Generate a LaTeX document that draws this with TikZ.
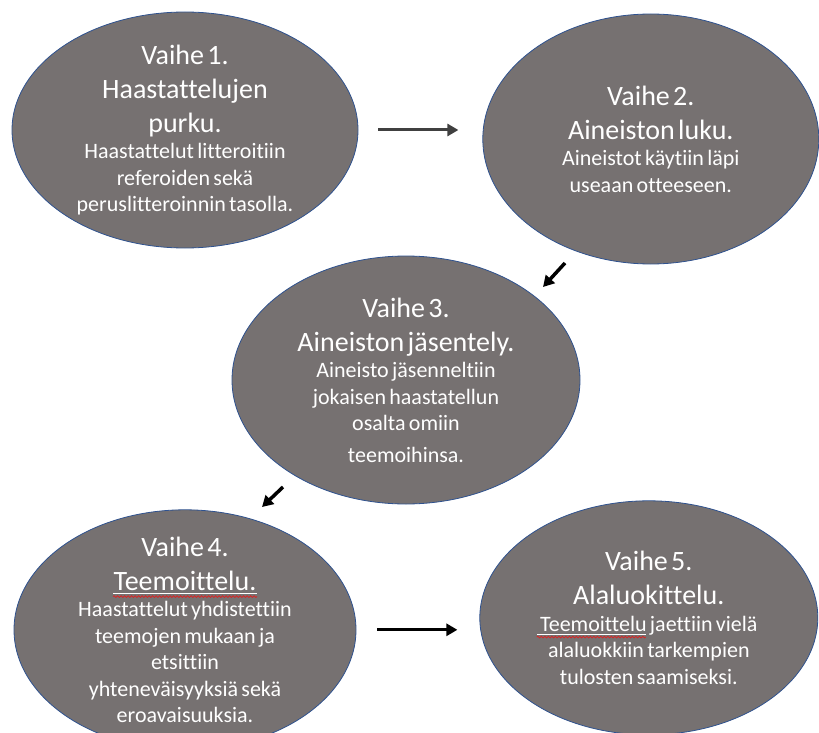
\documentclass[tikz,border=0pt]{standalone}
\usepackage{fontspec}
\setmainfont{Carlito}[Ligatures=CommonOff]
\usetikzlibrary{positioning}
\usetikzlibrary{shapes.geometric,arrows.meta,decorations.pathmorphing}

\definecolor{stagefill}{HTML}{767171}
\definecolor{stageline}{HTML}{2F528F}
\definecolor{arrowgray}{HTML}{404040}
\definecolor{spell}{HTML}{E02020}

\newcommand{\stagehead}{\fontsize{28}{34}\selectfont}
\newcommand{\stagebody}{\fontsize{22}{26.5}\selectfont}

\begin{document}
\begin{tikzpicture}[x=1pt, y=-1pt,
    stage/.style = {ellipse, draw=stageline, line width=0.8pt, fill=stagefill, inner sep=0pt},
    txt/.style = {text=white, align=center, text width=340pt, inner sep=0pt},
    flow/.style = {-{Triangle[length=11pt,width=12pt]}, line width=3pt},
    uline/.style = {draw=white, line width=1pt},
    wavy/.style = {draw=spell, line width=0.7pt, decorate, decoration={snake, amplitude=0.9pt, segment length=3.5pt}}]
            \useasboundingbox (0,0) rectangle (819,733);
            \node[stage, minimum width=346pt, minimum height=236pt](s1) at (185,130){};
            \node[stage, minimum width=336pt, minimum height=250pt](s2)[right=124pt of s1, yshift=-9pt]{};
            \node[stage, minimum width=348pt, minimum height=248pt](s3) at (406,380){};
            \node[stage, minimum width=342pt, minimum height=240pt](s4)[below=261pt of s1]{};
            \node[stage, minimum width=338pt, minimum height=234pt](s5)[right=123pt of s4, yshift=12pt]{};

            \node[txt](t1) at (s1){\stagehead Vaihe 1.\\Haastattelujen\\purku.\par
                \stagebody Haastattelut litteroitiin\\referoiden sekä\\peruslitteroinnin tasolla.\par};
            \node[txt](t2) at (s2){\stagehead Vaihe 2.\\Aineiston luku.\par
                \stagebody Aineistot käytiin läpi\\useaan otteeseen.\par};
            \node[txt](t3) at (s3){\stagehead Vaihe 3.\\Aineiston jäsentely.\par
                \stagebody Aineisto jäsenneltiin\\jokaisen haastatellun\\osalta omiin\\[5pt]teemoihinsa.\par};
            \node[txt](t4) at (s4){\stagehead Vaihe 4.\\Teemoittelu.\par
                \stagebody Haastattelut yhdistettiin\\teemojen mukaan ja\\etsittiin\\yhteneväisyyksiä sekä\\eroavaisuuksia.\par};
            \node[txt](t5) at (s5){\stagehead Vaihe 5.\\Alaluokittelu.\par
                \stagebody Teemoittelu jaettiin vielä\\alaluokkiin tarkempien\\tulosten saamiseksi.\par};

            % underlines of the word Teemoittelu
            \draw[uline] ([shift={(-72pt,-57pt)}]t4.north) -- ([shift={(72pt,-57pt)}]t4.north);
            \draw[wavy] ([shift={(-72pt,-60pt)}]t4.north) -- ([shift={(72pt,-60pt)}]t4.north);
            \draw[uline] ([shift={(-112pt,-83pt)}]t5.north) -- ([shift={(-3pt,-83pt)}]t5.north);
            \draw[wavy] ([shift={(-112pt,-86pt)}]t5.north) -- ([shift={(-3pt,-86pt)}]t5.north);

            % arrows between the stages
            \coordinate (a2s) at (565,263);
            \coordinate (a2e) at (543,287);
            \coordinate (a3s) at (283,487);
            \coordinate (a3e) at (262,507);
            \draw[flow, arrowgray, shorten <=20pt, shorten >=24pt] (s1.east) -- (s1.east -| s2.west);
            \draw[flow, line width=3.5pt] (a2s) -- (a2e);
            \draw[flow, line width=3.5pt] (a3s) -- (a3e);
            \draw[flow, shorten <=21pt, shorten >=22pt] (s4.east) -- (s4.east -| s5.west);
\end{tikzpicture}
\end{document}
